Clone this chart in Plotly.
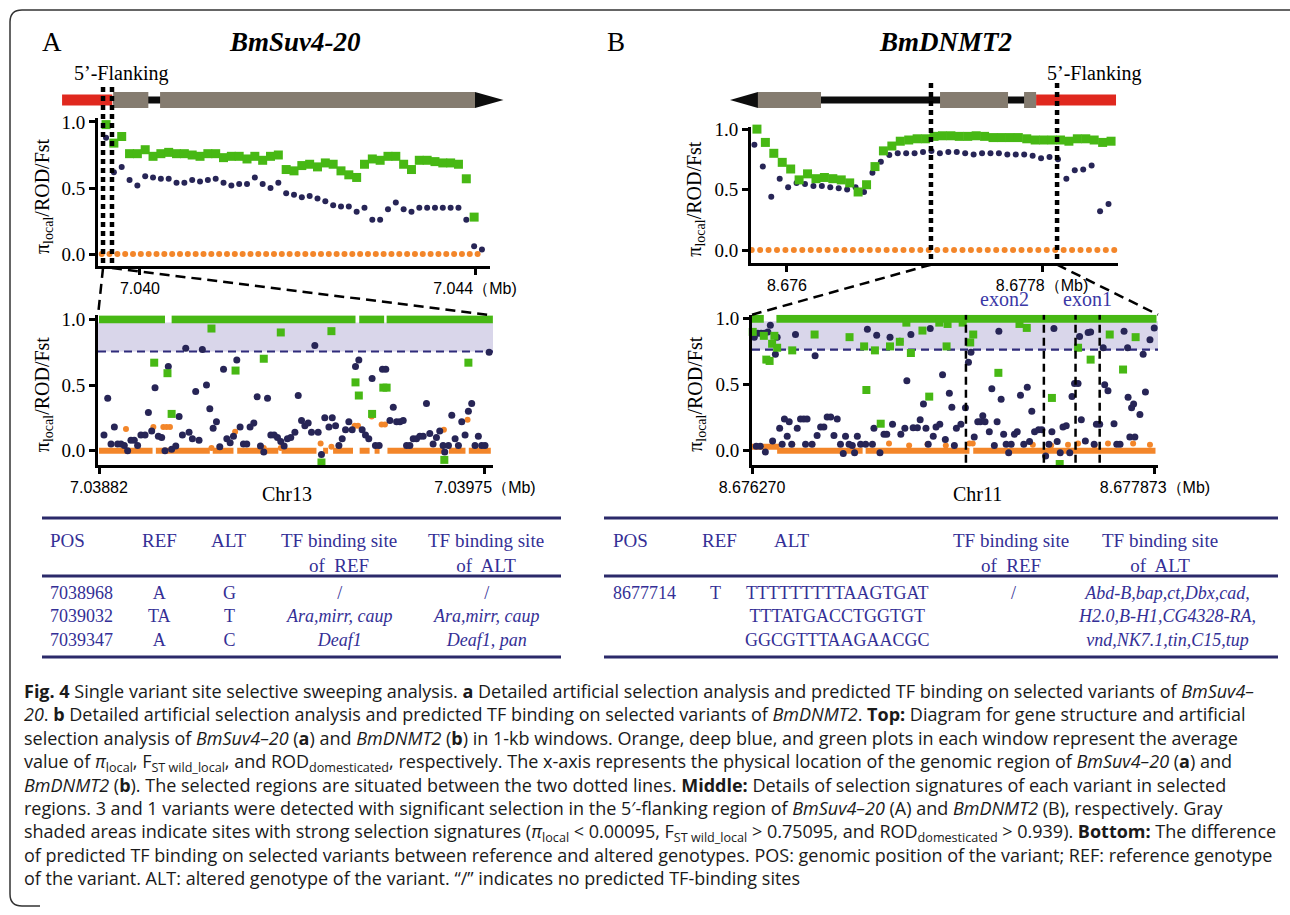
import plotly.graph_objects as go

W, H = 1290, 915

GREEN = '#47b814'
NAVY = '#272556'
ORANGE = '#f3862a'
SHADE = '#d9d6ea'
THRESH = '#2f2b7a'
TBL_TXT = '#342f96'
TBL_LINE = '#2b2a6a'
RED = '#e0281e'
GRAY = '#857c70'
SERIF = 'Liberation Serif'
SANS = 'Liberation Sans'
CAP = 'Open Sans'

# ---------------- data ----------------
top_step = 0.0000935
top_a_rod_start, top_a_fst_start, top_a_pi_start = 7.039595, 7.039595, 7.039543
top_a_rod = [0.98, 0.84, 0.89, 0.76, 0.76, 0.79, 0.74, 0.76, 0.77, 0.76, 0.76, 0.75, 0.74, 0.76, 0.76, 0.73,
             0.74, 0.74, 0.72, 0.74, 0.71, 0.74, 0.75, 0.64, 0.63, 0.67, 0.68, 0.66, 0.69, 0.68, 0.63, 0.60,
             0.58, 0.68, 0.72, 0.71, 0.74, 0.74, 0.68, 0.64, 0.71, 0.71, 0.70, 0.69, 0.69, 0.68, 0.57, 0.28]
top_a_fst = [0.88, 0.62, 0.66, 0.56, 0.52, 0.59, 0.58, 0.57, 0.57, 0.54, 0.54, 0.56, 0.55, 0.56, 0.57, 0.54,
             0.52, 0.53, 0.53, 0.58, 0.53, 0.50, 0.54, 0.46, 0.45, 0.43, 0.44, 0.42, 0.40, 0.37, 0.36, 0.36,
             0.32, 0.35, 0.26, 0.26, 0.34, 0.39, 0.34, 0.32, 0.35, 0.35, 0.35, 0.35, 0.35, 0.35, 0.26, 0.06, 0.035]
top_a_pi = [0.0] * 49

top_b_step = 0.0000595
top_b_rod_start, top_b_fst_start, top_b_pi_start = 8.675788, 8.675770, 8.675751
top_b_rod = [1.0, 0.89, 0.80, 0.725, 0.67, 0.58, 0.63, 0.59, 0.60, 0.59, 0.58, 0.555, 0.48, 0.54, 0.69, 0.82,
             0.86, 0.90, 0.91, 0.92, 0.92, 0.94, 0.945, 0.945, 0.94, 0.94, 0.945, 0.94, 0.93, 0.93, 0.93, 0.93,
             0.92, 0.91, 0.91, 0.91, 0.91, 0.90, 0.92, 0.92, 0.91, 0.89, 0.90]
top_b_fst = [0.87, 0.69, 0.44, 0.59, 0.52, 0.555, 0.545, 0.53, 0.53, 0.52, 0.51, 0.50, 0.52, 0.48, 0.64, 0.73,
             0.785, 0.80, 0.80, 0.80, 0.81, 0.82, 0.80, 0.81, 0.81, 0.80, 0.79, 0.80, 0.80, 0.80, 0.79, 0.79,
             0.79, 0.78, 0.76, 0.77, 0.75, 0.59, 0.66, 0.665, 0.70, 0.32, 0.38]
top_b_pi = [0.0] * 44

gene_a_flank = (7.03907, 7.03967)
gene_a_exons = [(7.03968, 7.04010), (7.04024, 7.04400)]
gene_a_tip = 7.04434
gene_b_flank = (8.677758, 8.678322)
gene_b_exons = [(8.675795, 8.676240), (8.677080, 8.677560), (8.677673, 8.677758)]
gene_b_tip = 8.675598
sel_top_a = [7.039559, 7.039666]
sel_top_b = [8.677016, 8.677906]

mid_a_start = 7.03882
mid_a_end = 7.03975
mid_a_fst_pos = [12, 21, 29, 37, 45, 53, 61, 69, 77, 85, 93, 101, 111, 119, 127, 135, 143, 151, 159, 167,
                 175, 185, 193, 201, 209, 217, 225, 233, 241, 249, 259, 267, 275, 283, 291, 300, 308, 316, 324, 332,
                 340, 348, 356, 364, 373, 381, 389, 397, 406, 414, 422, 430, 438, 446, 454, 462, 472, 480, 488, 496,
                 504, 512, 520, 528, 536, 544, 554, 562, 570, 578, 586, 594, 602, 610, 618, 626, 634, 642, 650, 658,
                 666, 675, 683, 691, 701, 709, 717, 725, 733, 741, 749, 757, 765, 773, 781, 789, 797, 805, 813, 821,
                 829, 833, 842, 850, 858, 866, 874, 882, 890, 898, 906, 914, 922, 930, 940]
mid_a_fst = [0.12, 0.40, 0.05, 0.18, 0.05, 0.05, 0.04, 0.0, 0.08, 0.08, 0.04, 0.12, 0.12, 0.29, 0.15, 0.48, 0.11, 0.10, 0.0, 0.64,
             0.01, 0.035, 0.26, 0.12, 0.78, 0.14, 0.09, 0.45, 0.08, 0.77, 0.50, 0.32, 0.17, 0.22, 0.03, 0.62, 0.09, 0.06, 0.11, 0.69,
             0.18, 0.05, 0.05, 0.18, 0.21, 0.41, 0.035, -0.01, 0.40, 0.12, 0.12, 0.10, 0.07, 0.035, 0.09, 0.10, 0.14, 0.42, 0.23, 0.19,
             0.21, 0.14, 0.80, 0.14, -0.03, 0.25, 0.18, 0.25, 0.19, 0.04, 0.09, 0.16, 0.22, 0.16, 0.64, 0.69, 0.16, 0.12, 0.09, 0.55,
             0.04, 0.04, 0.62, 0.62, 0.23, 0.33, 0.22, 0.22, 0.23, 0.04, 0.04, 0.09, 0.09, 0.11, 0.11, 0.36, 0.13, 0.05, 0.10, 0.15,
             0.04, -0.01, 0.04, 0.27, 0.09, 0.04, 0.22, 0.12, 0.30, 0.36, 0.04, 0.11, 0.04, 0.04, 0.75]
mid_a_rod_pos = [133, 165, 175, 271, 329, 397, 438, 536, 560, 618, 626, 658, 685, 693, 832, 890]
mid_a_rod = [0.67, 0.59, 0.28, 0.93, 0.61, 0.70, 0.90, -0.09, 0.91, 0.52, 0.42, 0.28, 0.48, 0.48, -0.07, 0.67]
mid_a_rod_runs = [(0, 159, 1.0), (175, 618, 1.0), (627, 687, 1.0), (693, 949, 1.0)]
mid_a_pi_pos = [65, 131, 155, 163, 171, 271, 328, 397, 438, 534, 560, 616, 624, 657, 681, 689, 831, 888]
mid_a_pi = [0.165, 0.18, 0.18, 0.18, 0.18, 0.02, 0.145, 0.02, 0.02, 0.055, 0.03, 0.19, 0.19, 0.26, 0.20, 0.20, 0.16, 0.235]
mid_a_pi_runs = [(0, 129, 0.0), (137, 267, 0.0), (274, 324, 0.0), (333, 392, 0.0), (400, 432, 0.0), (440, 524, 0.0),
                 (540, 552, 0.0), (564, 612, 0.0), (628, 652, 0.0), (664, 676, 0.0), (695, 831, 0.0), (843, 883, 0.0),
                 (891, 944, 0.0)]
mid_a_cut, mid_a_shade_top = 0.755, 0.975

mid_b_start = 8.676270
mid_b_end = 8.677873
mid_b_fst_pos = [9, 17, 23, 33, 36, 49, 53, 63, 73, 82, 93, 100, 110, 120, 129, 140, 148, 158, 173, 180,
                 193, 206, 213, 219, 239, 251, 259, 273, 286, 299, 313, 326, 339, 352, 363, 372, 386, 399, 408, 419,
                 432, 452, 459, 479, 485, 496, 509, 525, 536, 549, 559, 588, 592, 608, 616, 632, 641, 658, 669, 682,
                 692, 701, 709, 721, 732, 747, 758, 769, 785, 795, 805, 813, 831, 849, 861, 871, 884, 898, 908, 918,
                 927, 944, 954, 964, 975, 982, 991, 1001, 1011, 1021, 1031, 1044, 1055, 1068, 1081, 1095, 1104, 1113, 1124, 1140,
                 1153, 1168, 1181, 1193, 1201, 1214, 1226, 1237, 1250, 1264, 1273, 1283, 1297, 1303, 1310, 1326, 1337, 1347, 1361, 1370,
                 1383, 1397, 1403, 1416, 1440, 1451, 1464, 1480, 1494, 1496, 1503, 1510, 1518, 1523, 1543, 1556, 1565, 1583, 1600]
mid_b_fst = [0.86, 0.035, 0.89, 0.035, 0.89, 0.89, -0.01, 0.90, 0.95, 0.075, 0.73, 0.86, 0.17, 0.05, 0.24, 0.11, 0.22, 0.05, 0.88, 0.17,
             0.24, 0.24, 0.05, 0.24, 0.05, 0.72, 0.115, 0.18, 0.18, 0.255, 0.255, 0.115, 0.24, 0.05, -0.02, 0.11, 0.05, 0.04, -0.015, 0.11,
             0.05, 0.05, 0.92, 0.05, 0.17, 0.875, -0.015, 0.125, 0.125, 0.86, 0.20, 0.83, 0.125, 0.17, 0.53, 0.88, 0.175, 0.175, 0.235, 0.355,
             0.17, 0.05, 0.925, 0.11, 0.18, 0.20, 0.575, 0.085, 0.435, 0.33, 0.04, 0.17, 0.20, 0.325, 0.67, 0.745, 0.105, 0.22, 0.22, 0.265,
             0.22, 0.145, 0.47, 0.04, 0.22, 0.905, 0.39, 0.125, 0.05, -0.015, 0.05, 0.125, 0.145, 0.42, 0.05, 0.48, 0.07, 0.30, 0.145, 0.16,
             0.16, -0.04, 0.05, 0.145, 0.925, 0.07, -0.015, 0.18, 0.19, -0.015, 0.41, 0.51, 0.51, 0.865, 0.235, 0.075, 0.895, 0.90, 0.05, 0.20,
             0.20, 0.78, 0.50, 0.455, 0.205, 0.05, 0.05, 0.905, 0.78, 0.405, 0.105, 0.325, 0.355, 0.105, 0.275, 0.73, 0.445, 0.84, 0.93]
mid_b_rod_pos = [3, 47, 57, 70, 80, 89, 100, 160, 249, 388, 446, 455, 489, 512, 549, 588, 614, 632, 678, 705,
                 745, 774, 778, 838, 868, 880, 980, 1064, 1093, 1193, 1224, 1297, 1347, 1423, 1476, 1526]
mid_b_rod = [0.90, 0.87, 0.69, 0.68, 0.81, 0.87, 0.78, 0.76, 0.88, 0.86, 0.79, 0.46, 0.76, 0.205, 0.79, 0.825, 0.97, 0.74, 0.91, 0.41,
             0.97, 0.79, 0.96, 0.97, 0.82, 0.88, 0.59, 0.96, 0.93, 0.40, -0.10, 0.78, 0.69, 0.88, 0.615, 0.86]
mid_b_rod_runs = [(0, 47, 1.0), (97, 1609, 1.0)]
mid_b_pi_pos = [160, 239, 545, 625, 698, 771, 865, 878, 1117, 1190, 1257, 1297, 1363, 1416, 1516, 1583]
mid_b_pi = [0.05, 0.05, 0.055, 0.04, 0.05, 0.04, 0.055, 0.055, 0.045, 0.04, 0.045, 0.055, 0.04, 0.055, 0.055, 0.045]
mid_b_pi_runs = [(0, 110, 0.03), (100, 440, 0.0), (452, 865, 0.0), (880, 1605, 0.0)]
mid_b_cut, mid_b_shade_top = 0.765, 0.98
exons_b = [('exon2', 851, 1161), ('exon1', 1287, 1383)]

y_ticks = [0.0, 0.5, 1.0]
y_ticktext = ['0.0', '0.5', '1.0']

# tables: one list per column, rows stacked
tbl_a_cols = [['POS'], ['REF'], ['ALT'], ['TF binding site', 'of  REF'], ['TF binding site', 'of  ALT']]
tbl_a_data = [['7038968', '7039032', '7039347'],
              ['A', 'TA', 'A'],
              ['G', 'T', 'C'],
              ['/', '<i>Ara,mirr, caup</i>', '<i>Deaf1</i>'],
              ['/', '<i>Ara,mirr, caup</i>', '<i>Deaf1, pan</i>']]
tbl_b_cols = [['POS'], ['REF'], ['ALT'], ['TF binding site', 'of  REF'], ['TF binding site', 'of  ALT']]
tbl_b_data = [['8677714'],
              ['T'],
              ['TTTTTTTTTAAGTGAT', 'TTTATGACCTGGTGT', 'GGCGTTTAAGAACGC'],
              ['/'],
              ['<i>Abd-B,bap,ct,Dbx,cad,</i>', '<i>H2.0,B-H1,CG4328-RA,</i>', '<i>vnd,NK7.1,tin,C15,tup</i>']]

caption = [
    '<b>Fig. 4</b> Single variant site selective sweeping analysis. <b>a</b> Detailed artificial selection analysis and predicted TF binding on selected variants of <i>BmSuv4–</i>',
    '<i>20</i>. <b>b</b> Detailed artificial selection analysis and predicted TF binding on selected variants of <i>BmDNMT2</i>. <b>Top:</b> Diagram for gene structure and artificial',
    'selection analysis of <i>BmSuv4–20</i> (<b>a</b>) and <i>BmDNMT2</i> (<b>b</b>) in 1-kb windows. Orange, deep blue, and green plots in each window represent the average',
    'value of <i>π</i><sub>local</sub>, F<sub>ST wild_local</sub>, and ROD<sub>domesticated</sub>, respectively. The x-axis represents the physical location of the genomic region of <i>BmSuv4–20</i> (<b>a</b>) and',
    '<i>BmDNMT2</i> (<b>b</b>). The selected regions are situated between the two dotted lines. <b>Middle:</b> Details of selection signatures of each variant in selected',
    'regions. 3 and 1 variants were detected with significant selection in the 5′-flanking region of <i>BmSuv4–20</i> (A) and <i>BmDNMT2</i> (B), respectively. Gray',
    'shaded areas indicate sites with strong selection signatures (<i>π</i><sub>local</sub> < 0.00095, F<sub>ST wild_local</sub> > 0.75095, and ROD<sub>domesticated</sub> > 0.939). <b>Bottom:</b> The difference',
    'of predicted TF binding on selected variants between reference and altered genotypes. POS: genomic position of the variant; REF: reference genotype',
    'of the variant. ALT: altered genotype of the variant. “/” indicates no predicted TF-binding sites',
]

# ---------------- geometry (pixels) ----------------
P = {
    'ta': dict(x=(98, 490), y=(118, 266), xr=(7.039499, 7.044179), yr=(-0.09, 1.03), ax=('x', 'y'),
               tv=[7.040, 7.044], tt=['7.040', '7.044（Mb)']),
    'ma': dict(x=(98, 493), y=(315.4, 465), xr=(7.0388176, 7.0397693), yr=(-0.109, 1.03), ax=('x2', 'y2'),
               tv=[mid_a_start, mid_a_end], tt=['7.03882', '7.03975（Mb)']),
    'tb': dict(x=(751, 1118), y=(126.7, 262.7), xr=(8.675746, 8.678336), yr=(-0.105, 1.02), ax=('x3', 'y3'),
               tv=[8.676, 8.6778], tt=['8.676', '8.6778（Mb)']),
    'mb': dict(x=(752, 1158), y=(314.7, 465), xr=(8.676270, 8.677885), yr=(-0.1075, 1.03), ax=('x4', 'y4'),
               tv=[mid_b_start, mid_b_end], tt=['8.676270', '8.677873（Mb)']),
}


def fx(p, v):
    g = P[p]
    return g['x'][0] + (v - g['xr'][0]) / (g['xr'][1] - g['xr'][0]) * (g['x'][1] - g['x'][0])


def X(px):
    return px / W


def Y(py):
    return 1 - py / H


fig = go.Figure()


def add_pts(p, xs, ys, color, sym, size):
    xa, ya = P[p]['ax']
    fig.add_trace(go.Scatter(x=xs, y=ys, mode='markers', xaxis=xa, yaxis=ya,
                             marker=dict(color=color, symbol=sym, size=size, line=dict(width=0)),
                             cliponaxis=False, showlegend=False, hoverinfo='skip'))


def add_runs(p, base, runs, color, width):
    xa, ya = P[p]['ax']
    xs, ys = [], []
    for s, e, v in runs:
        xs += [base + s / 1e6, base + e / 1e6, None]
        ys += [v, v, None]
    fig.add_trace(go.Scatter(x=xs, y=ys, mode='lines', xaxis=xa, yaxis=ya,
                             line=dict(color=color, width=width), showlegend=False, hoverinfo='skip'))


def win(start, step, n):
    return [start + step * i for i in range(n)]


add_pts('ta', win(top_a_pi_start, top_step, len(top_a_pi)), top_a_pi, ORANGE, 'circle', 6)
add_pts('ta', win(top_a_fst_start, top_step, len(top_a_fst)), top_a_fst, NAVY, 'circle', 6)
add_pts('ta', win(top_a_rod_start, top_step, len(top_a_rod)), top_a_rod, GREEN, 'square', 9)
add_pts('tb', win(top_b_pi_start, top_b_step, len(top_b_pi)), top_b_pi, ORANGE, 'circle', 6)
add_pts('tb', win(top_b_fst_start, top_b_step, len(top_b_fst)), top_b_fst, NAVY, 'circle', 6)
add_pts('tb', win(top_b_rod_start, top_b_step, len(top_b_rod)), top_b_rod, GREEN, 'square', 9)

add_runs('ma', mid_a_start, mid_a_pi_runs, ORANGE, 6)
add_pts('ma', [mid_a_start + p / 1e6 for p in mid_a_pi_pos], mid_a_pi, ORANGE, 'circle', 6)
add_pts('ma', [mid_a_start + p / 1e6 for p in mid_a_fst_pos], mid_a_fst, NAVY, 'circle', 7)
add_runs('ma', mid_a_start, mid_a_rod_runs, GREEN, 8)
add_pts('ma', [mid_a_start + p / 1e6 for p in mid_a_rod_pos], mid_a_rod, GREEN, 'square', 8)

add_runs('mb', mid_b_start, mid_b_pi_runs, ORANGE, 6)
add_pts('mb', [mid_b_start + p / 1e6 for p in mid_b_pi_pos], mid_b_pi, ORANGE, 'circle', 6)
add_pts('mb', [mid_b_start + p / 1e6 for p in mid_b_fst_pos], mid_b_fst, NAVY, 'circle', 7)
add_runs('mb', mid_b_start, mid_b_rod_runs, GREEN, 8)
add_pts('mb', [mid_b_start + p / 1e6 for p in mid_b_rod_pos], mid_b_rod, GREEN, 'square', 8)

layout = {}
for p, g in P.items():
    xa, ya = g['ax']
    xk = 'xaxis' + xa[1:]
    yk = 'yaxis' + ya[1:]
    common = dict(showline=True, linecolor='black', linewidth=3, ticks='outside', ticklen=6,
                  tickwidth=2.5, tickcolor='black', showgrid=False, zeroline=False, fixedrange=True,
                  automargin=False)
    layout[xk] = dict(domain=[X(g['x'][0]), X(g['x'][1])], range=list(g['xr']), anchor=ya,
                      tickmode='array', tickvals=g['tv'], ticktext=g['tt'],
                      tickfont=dict(family=SANS, size=16, color='black'), **common)
    layout[yk] = dict(domain=[Y(g['y'][1]), Y(g['y'][0])], range=list(g['yr']), anchor=xa,
                      tickmode='array', tickvals=y_ticks, ticktext=y_ticktext,
                      tickfont=dict(family=SERIF, size=19, color='black'), **common)

shapes = []
ann = []

r = 12
shapes.append(dict(type='path', xref='paper', yref='paper', layer='above',
                   path=f'M {X(1290)},{Y(10)} L {X(10 + r)},{Y(10)} Q {X(10)},{Y(10)} {X(10)},{Y(10 + r)} '
                        f'L {X(10)},{Y(906 - r)} Q {X(10)},{Y(906)} {X(10 + r)},{Y(906)} L {X(40)},{Y(906)}',
                   line=dict(color='#333333', width=1.5)))

for p, cut, top in [('ma', mid_a_cut, mid_a_shade_top), ('mb', mid_b_cut, mid_b_shade_top)]:
    g = P[p]
    xa, ya = g['ax']
    shapes.append(dict(type='rect', xref=xa, yref=ya, x0=g['xr'][0], x1=g['xr'][1], y0=cut, y1=top,
                       fillcolor=SHADE, line=dict(width=0), layer='below'))
    shapes.append(dict(type='line', xref=xa, yref=ya, x0=g['xr'][0], x1=g['xr'][1], y0=cut, y1=cut,
                       line=dict(color=THRESH, width=2.2, dash='8px,5px'), layer='below'))

for name, s, e in exons_b:
    for v in (s, e):
        shapes.append(dict(type='line', xref='x4', yref='y4', x0=mid_b_start + v / 1e6, x1=mid_b_start + v / 1e6,
                           y0=-0.09, y1=1.03, line=dict(color='black', width=2.5, dash='8px,5px'), layer='above'))
    ann.append(dict(text=name, xref='x4', yref='paper', x=mid_b_start + (s + e) / 2e6, y=Y(299),
                    showarrow=False, xanchor='center', yanchor='middle',
                    font=dict(family=SERIF, size=20, color='#3b38a6')))

GY = 100


def gene(p, flank, exons, tip):
    s0, s1 = exons[0][0], exons[-1][1]
    shapes.append(dict(type='rect', xref='paper', yref='paper', x0=X(fx(p, s0)), x1=X(fx(p, s1)),
                       y0=Y(GY + 3.5), y1=Y(GY - 3.5), fillcolor='#0d0d0d', line=dict(width=0), layer='above'))
    shapes.append(dict(type='rect', xref='paper', yref='paper', x0=X(fx(p, flank[0])), x1=X(fx(p, flank[1])),
                       y0=Y(GY + 5.5), y1=Y(GY - 5.5), fillcolor=RED, line=dict(width=0), layer='above'))
    for a, b in exons:
        shapes.append(dict(type='rect', xref='paper', yref='paper', x0=X(fx(p, a)), x1=X(fx(p, b)),
                           y0=Y(GY + 8), y1=Y(GY - 8), fillcolor=GRAY, line=dict(width=0), layer='above'))
    base = s1 if tip > s1 else s0
    bx, tx = X(fx(p, base)), X(fx(p, tip))
    shapes.append(dict(type='path', xref='paper', yref='paper', layer='above',
                       path=f'M {bx},{Y(GY - 8)} L {tx},{Y(GY)} L {bx},{Y(GY + 8)} Z',
                       fillcolor='#0d0d0d', line=dict(width=0)))


gene('ta', gene_a_flank, gene_a_exons, gene_a_tip)
gene('tb', gene_b_flank, gene_b_exons, gene_b_tip)

for tp, mp, sel, ytop in [('ta', 'ma', sel_top_a, 87), ('tb', 'mb', sel_top_b, 83)]:
    gt, gm = P[tp], P[mp]
    ybot = gt['y'][1]
    for v in sel:
        shapes.append(dict(type='line', xref='paper', yref='paper', x0=X(fx(tp, v)), x1=X(fx(tp, v)),
                           y0=Y(ytop), y1=Y(ybot), line=dict(color='black', width=4.5, dash='5px,4px'),
                           layer='above'))
    shapes.append(dict(type='line', xref='paper', yref='paper', x0=X(fx(tp, sel[0])), y0=Y(ybot + 2),
                       x1=X(gm['x'][0]), y1=Y(gm['y'][0]),
                       line=dict(color='black', width=2.5, dash='10px,6px'), layer='above'))
    shapes.append(dict(type='line', xref='paper', yref='paper', x0=X(fx(tp, sel[1])), y0=Y(ybot + 2),
                       x1=X(gm['x'][1]), y1=Y(gm['y'][0]),
                       line=dict(color='black', width=2.5, dash='10px,6px'), layer='above'))


def text(t, px, py, size, family=SERIF, color='black', xanchor='center', angle=0, yanchor='middle',
         align='center'):
    ann.append(dict(text=t, xref='paper', yref='paper', x=X(px), y=Y(py), showarrow=False,
                    xanchor=xanchor, yanchor=yanchor, textangle=angle, align=align,
                    font=dict(family=family, size=size, color=color)))


text('A', 40, 42, 27, xanchor='left')
text('<b><i>BmSuv4-20</i></b>', 295, 42, 27)
text('B', 605, 42, 27, xanchor='left')
text('<b><i>BmDNMT2</i></b>', 946, 42, 27)
text('5’-Flanking', 121, 73, 20)
text('5’-Flanking', 1094, 73, 20)
for p in P:
    g = P[p]
    text('π<sub>local</sub>/ROD/Fst', g['x'][0] - 55, (g['y'][0] + g['y'][1]) / 2 + 4, 20, angle=-90)
text('Chr13', 287, 494, 20)
text('Chr11', 978, 494, 20)

for x0, x1 in [(42, 561), (604, 1278)]:
    for yy in (518, 576, 657):
        shapes.append(dict(type='line', xref='paper', yref='paper', x0=X(x0), x1=X(x1), y0=Y(yy), y1=Y(yy),
                           line=dict(color=TBL_LINE, width=3), layer='above'))


def table(cols, hx, data, rx):
    for h, (px, anc) in zip(cols, hx):
        text('<br>'.join(h), px, 528, 19, color=TBL_TXT, xanchor=anc, yanchor='top', align=anc)
    for c, (px, anc) in zip(data, rx):
        text('<br>'.join(c), px, 581, 18, color=TBL_TXT, xanchor=anc, yanchor='top', align=anc)


table(tbl_a_cols, [(48, 'left'), (159, 'center'), (229, 'center'), (339, 'center'), (486, 'center')],
      tbl_a_data, [(48, 'left'), (159, 'center'), (229, 'center'), (339, 'center'), (486, 'center')])
table(tbl_b_cols, [(611, 'left'), (719, 'center'), (792, 'center'), (1011, 'center'), (1160, 'center')],
      tbl_b_data, [(611, 'left'), (715, 'center'), (837, 'center'), (1013, 'center'), (1167, 'center')])

text('<br>'.join(caption), 22, 677, 18, family=CAP, color='#1a1a1a', xanchor='left', yanchor='top',
     align='left')

fig.update_layout(width=W, height=H, margin=dict(l=0, r=0, t=0, b=0, pad=0, autoexpand=False),
                  paper_bgcolor='white', plot_bgcolor='rgba(0,0,0,0)', showlegend=False,
                  shapes=shapes, annotations=ann, font=dict(family=SERIF), template='none', **layout)

fig.write_html('out.html', post_script="document.body.style.margin='0';",
               config={'displayModeBar': False})
